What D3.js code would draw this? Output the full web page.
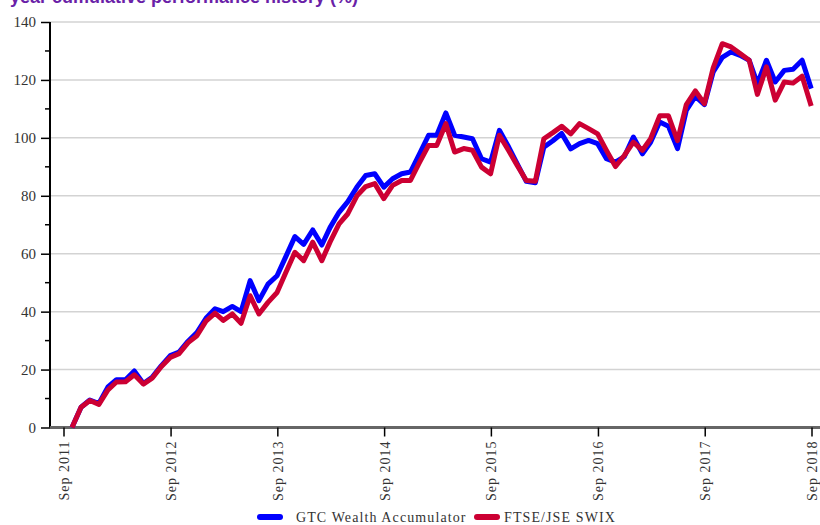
<!DOCTYPE html>
<html>
<head>
<meta charset="utf-8">
<script src="https://cdn.jsdelivr.net/npm/d3@7"></script>
<style>
  body { margin: 0; background: #fff; }
  svg { display: block; }
</style>
</head>
<body>
<div id="chart"></div>
<script>
// monthly cumulative performance (%), Sep 2011 - Aug 2018
var firstMonth = new Date(2011, 8, 1);
var lastMonth = new Date(2018, 8, 1);
var tickYears = [2011, 2012, 2013, 2014, 2015, 2016, 2017, 2018];
var yTicks = [0, 20, 40, 60, 80, 100, 120, 140];
var seriesNames = ['GTC Wealth Accumulator', 'FTSE/JSE SWIX'];

var gtcValues = [
  0, 7, 9.5, 8.3, 14, 16.5, 16.5, 19.5, 15.2, 17.3, 21.3, 24.8,
  26, 29.8, 32.8, 37.7, 41, 40, 41.8, 40, 50.7, 43.8, 49.5, 52.4,
  59, 65.9, 63.2, 68.2, 63, 69, 74.3, 78, 83, 87, 87.6, 83,
  85.9, 87.6, 88.2, 94.5, 100.9, 100.9, 108.6, 100.9, 100.3, 99.7, 92.8, 91.6,
  102.6, 97, 91, 85, 84.5, 96.8, 99, 101.5, 96.2, 98, 99.1, 98,
  92.8, 91.6, 93.5, 100.3, 94.5, 98.5, 105.5, 104, 96.3, 109.5, 114.3, 111.5,
  122.8, 127.8, 129.7, 128.5, 126.8, 118.7, 126.8, 119.3, 123.3, 123.7, 126.8, 117
];
var swixValues = [
  0, 7, 9.3, 8, 13, 15.7, 15.8, 18.2, 15, 17, 21, 24.2,
  25.5, 29.3, 31.7, 36.7, 39.5, 37, 39.2, 36, 45.5, 39.2, 43.2, 46.6,
  53.5, 60.5, 57.6, 64, 57.6, 64, 70.3, 73.8, 80, 83.2, 84.2, 79,
  83.6, 85.3, 85.3, 91.5, 97.4, 97.4, 104.9, 95.1, 96.3, 95.7, 89.9, 87.6,
  100.9, 95.7, 90.5, 85.3, 85, 99.7, 101.8, 104, 101.4, 104.9, 103.2, 101.4,
  95.7, 90.1, 93.9, 98.5, 95.7, 99.7, 107.6, 107.6, 99, 111.5, 116.2, 111.8,
  124.2, 132.5, 131.4, 129.1, 126.8, 115, 124.5, 113, 119.3, 118.9, 121.3, 111
];

var colors = ['#0000ff', '#cc0033'];

var width = 820, height = 525;
var margin = {top: 22, right: 0, bottom: 98, left: 50};
var innerW = width - margin.left - margin.right;
var innerH = height - margin.top - margin.bottom;

// month-end dates for each point
var dates = d3.timeMonth.range(firstMonth, lastMonth).map(function(m) {
  return d3.timeDay.offset(d3.timeMonth.offset(m, 1), -1);
});
var series = [gtcValues, swixValues].map(function(vals, i) {
  return {name: seriesNames[i], color: colors[i],
          values: vals.map(function(v, j) { return {date: dates[j], value: v}; })};
});

var svg = d3.select('#chart').append('svg')
  .attr('width', width).attr('height', height);

// title, cut off at the top like the original
svg.append('text')
  .attr('x', 10).attr('y', 3)
  .style('font-family', '"Liberation Sans", Arial, sans-serif')
  .style('font-size', '18px').style('font-weight', 'bold')
  .style('fill', '#6a1fa8')
  .text('year cumulative performance history (%)');

var g = svg.append('g').attr('transform', 'translate(' + margin.left + ',' + margin.top + ')');

var x = d3.scaleTime()
  .domain([new Date(2011, 8, 1), new Date(2018, 8, 1)])
  .range([13.5, 761.5]);
var y = d3.scaleLinear().domain([0, 140]).range([innerH + 0.5, 0]);

// grid
g.append('g').selectAll('line')
  .data(yTicks.filter(function(d) { return d > 0; }))
  .enter().append('line')
  .attr('x1', 0).attr('x2', innerW)
  .attr('y1', function(d) { return y(d); }).attr('y2', function(d) { return y(d); })
  .style('stroke', '#d3d3d3').style('stroke-width', 1.5);

// y axis + minor ticks every 10
var yAxis = g.append('g').attr('class', 'axis axis--y')
  .call(d3.axisLeft(y).tickValues(yTicks).tickSize(9).tickPadding(5));
g.append('g').selectAll('line')
  .data(d3.range(10, 140, 20))
  .enter().append('line')
  .attr('x1', -5).attr('x2', 0)
  .attr('y1', function(d) { return y(d); }).attr('y2', function(d) { return y(d); })
  .style('stroke', '#000').style('stroke-width', 1.5);
yAxis.select('.domain').style('stroke', '#000').style('stroke-width', 2)
  .attr('d', 'M0,' + y(140) + 'V' + y(0));
yAxis.selectAll('.tick line').style('stroke', '#000').style('stroke-width', 1.5);
yAxis.selectAll('.tick text')
  .style('font-family', '"Liberation Serif", serif').style('font-size', '15px')
  .style('fill', '#333');

// x axis
var xAxis = g.append('g').attr('class', 'axis axis--x')
  .attr('transform', 'translate(0,' + y(0) + ')')
  .call(d3.axisBottom(x)
    .tickValues(tickYears.map(function(yr) { return new Date(yr, 8, 1); }))
    .tickFormat(d3.timeFormat('%b %Y'))
    .tickSize(9).tickSizeOuter(0));
xAxis.select('.domain').attr('d', 'M0,0H' + innerW)
  .style('stroke', '#666').style('stroke-width', 3);
xAxis.selectAll('.tick line').style('stroke', '#000').style('stroke-width', 1.5);
xAxis.selectAll('.tick text')
  .attr('transform', 'rotate(-90)')
  .attr('x', -13).attr('y', 0).attr('dy', '0.35em')
  .style('text-anchor', 'end')
  .style('font-family', '"Liberation Serif", serif').style('font-size', '14px')
  .style('letter-spacing', '1px')
  .style('fill', '#333');

// lines
var line = d3.line()
  .x(function(d) { return x(d.date); })
  .y(function(d) { return y(d.value); });

g.selectAll('.series')
  .data(series)
  .enter().append('path')
  .attr('class', 'series')
  .attr('d', function(d) { return line(d.values); })
  .style('fill', 'none')
  .style('stroke', function(d) { return d.color; })
  .style('stroke-width', 5)
  .style('stroke-linejoin', 'round');

// legend
var legend = svg.append('g').attr('transform', 'translate(0,517)');
var swatchX = [260, 477];
var labelX = [296, 504];
series.forEach(function(s, i) {
  legend.append('line')
    .attr('x1', swatchX[i]).attr('x2', swatchX[i] + 20)
    .attr('y1', 0).attr('y2', 0)
    .style('stroke', s.color).style('stroke-width', 6)
    .style('stroke-linecap', 'round');
  legend.append('text')
    .attr('x', labelX[i]).attr('y', 0).attr('dy', '0.35em')
    .style('font-family', '"Liberation Serif", serif').style('font-size', '14px')
    .style('letter-spacing', '1.1px')
    .style('fill', '#333')
    .text(s.name);
});
</script>
</body>
</html>
